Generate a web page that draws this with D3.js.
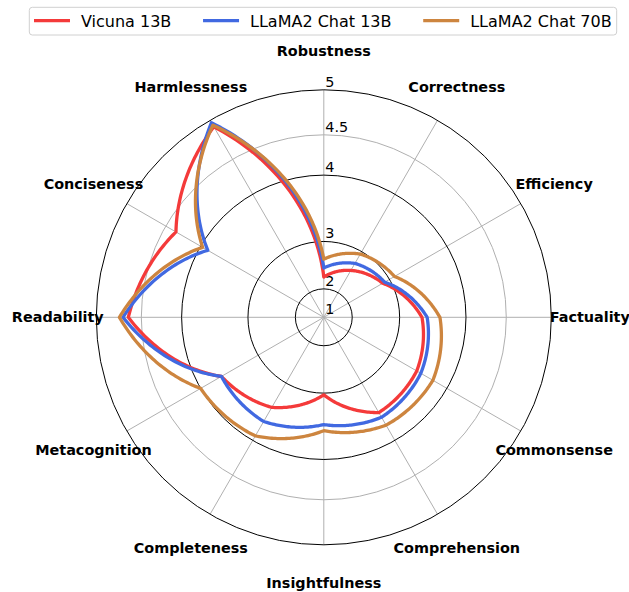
<!DOCTYPE html>
<html>
<head>
<meta charset="utf-8">
<script src="https://cdn.jsdelivr.net/npm/d3@7"></script>
<style>
  body { margin: 0; background: white; }
  text { font-family: "DejaVu Sans", sans-serif; }
</style>
</head>
<body>
<script>
// skills, clockwise from the top
let skills = ['Robustness', 'Correctness', 'Efficiency', 'Factuality', 'Commonsense', 'Comprehension',
              'Insightfulness', 'Completeness', 'Metacognition', 'Readability', 'Conciseness', 'Harmlessness']

let vicuna13 = [2.29, 2.59, 2.86, 3.37, 3.51, 3.55, 3.03, 3.46, 3.67, 4.65, 4.36, 4.92]
let llama13  = [2.49, 2.75, 2.90, 3.45, 3.58, 3.63, 3.51, 3.70, 3.67, 4.71, 3.89, 4.97]
let llama70  = [2.67, 2.95, 3.10, 3.64, 3.78, 3.76, 3.60, 3.93, 4.00, 4.75, 3.97, 4.94]

let seriesNames  = ['Vicuna 13B', 'LLaMA2 Chat 13B', 'LLaMA2 Chat 70B']
let seriesColors = ['#f43a3a', '#4169e1', '#cd853f']
let seriesValues = [vicuna13, llama13, llama70]

let tickValues = [1, 2, 3, 4, 4.5, 5]
let tickLabels = ['1', '2', '3', '4', '4.5', '5']

let width = 629, height = 592
let cx = 323.8, cy = 317.3
let R = 227.5

let svg = d3.select('body').append('svg')
            .attr('width', width)
            .attr('height', height)

svg.append('rect')
   .attr('width', '100%')
   .attr('height', '100%')
   .attr('fill', 'white')

let r = d3.scalePow().exponent(2).domain([1, 5]).range([0, R])
let angle = d3.scaleLinear().domain([0, skills.length]).range([0, 2 * Math.PI])

let g = svg.append('g').attr('transform', `translate(${cx},${cy})`)

// spokes
g.selectAll('line.spoke')
 .data(skills)
 .join('line')
 .attr('class', 'spoke')
 .attr('x1', 0).attr('y1', 0)
 .attr('x2', (d, i) => R * Math.sin(angle(i)))
 .attr('y2', (d, i) => -R * Math.cos(angle(i)))
 .attr('stroke', '#b0b0b0')
 .attr('stroke-width', 1)

// rings
g.selectAll('circle.ring')
 .data(tickValues.filter(v => v > 1))
 .join('circle')
 .attr('class', 'ring')
 .attr('r', d => r(d))
 .attr('fill', 'none')
 .attr('stroke', d => d === 4.5 ? '#b0b0b0' : 'black')
 .attr('stroke-width', 1)

// tick labels
g.selectAll('text.tick')
 .data(tickValues)
 .join('text')
 .attr('class', 'tick')
 .attr('x', 1.5)
 .attr('y', d => -r(d) - 3)
 .attr('font-size', '14.4px')
 .attr('fill', 'black')
 .text((d, i) => tickLabels[i])

// series: straight in (angle, radius) like a polar plot
let steps = 40
let radial = d3.lineRadial().angle(d => d[0]).radius(d => d[1])

seriesValues.forEach((vals, s) => {
    let pts = []
    for (let i = 0; i < vals.length; i++) {
        let a0 = angle(i), a1 = angle(i + 1)
        let r0 = r(vals[i]), r1 = r(vals[(i + 1) % vals.length])
        for (let k = 0; k < steps; k++) {
            let t = k / steps
            pts.push([a0 + (a1 - a0) * t, r0 + (r1 - r0) * t])
        }
    }
    pts.push([angle(vals.length), r(vals[0])])
    g.append('path')
     .attr('d', radial(pts) + 'Z')
     .attr('fill', 'none')
     .attr('stroke', seriesColors[s])
     .attr('stroke-width', 3.3)
     .attr('stroke-linejoin', 'round')
})

// skill labels
g.selectAll('text.skill')
 .data(skills)
 .join('text')
 .attr('class', 'skill')
 .attr('x', (d, i) => 266 * Math.sin(angle(i)))
 .attr('y', (d, i) => -266 * Math.cos(angle(i)))
 .attr('text-anchor', 'middle')
 .attr('dominant-baseline', 'central')
 .attr('font-size', '14.4px')
 .attr('font-weight', 'bold')
 .attr('fill', 'black')
 .text(d => d)

// legend
let legend = svg.append('g')
let box = legend.append('rect')
                .attr('x', 29.3).attr('y', 7.3)
                .attr('height', 27.7)
                .attr('rx', 3)
                .attr('fill', 'white')
                .attr('fill-opacity', 0.8)
                .attr('stroke', '#d0d0d0')
                .attr('stroke-width', 1)

let x = 34
seriesNames.forEach((name, s) => {
    legend.append('line')
          .attr('x1', x).attr('x2', x + 36)
          .attr('y1', 20.7).attr('y2', 20.7)
          .attr('stroke', seriesColors[s])
          .attr('stroke-width', 3.3)
    let t = legend.append('text')
                  .attr('x', x + 47)
                  .attr('y', 26.6)
                  .attr('font-size', '16px')
                  .attr('fill', 'black')
                  .text(name)
    x = x + 47 + t.node().getComputedTextLength() + 31.7
})
box.attr('width', x - 31.7 + 5 - 29.3)
</script>
</body>
</html>
